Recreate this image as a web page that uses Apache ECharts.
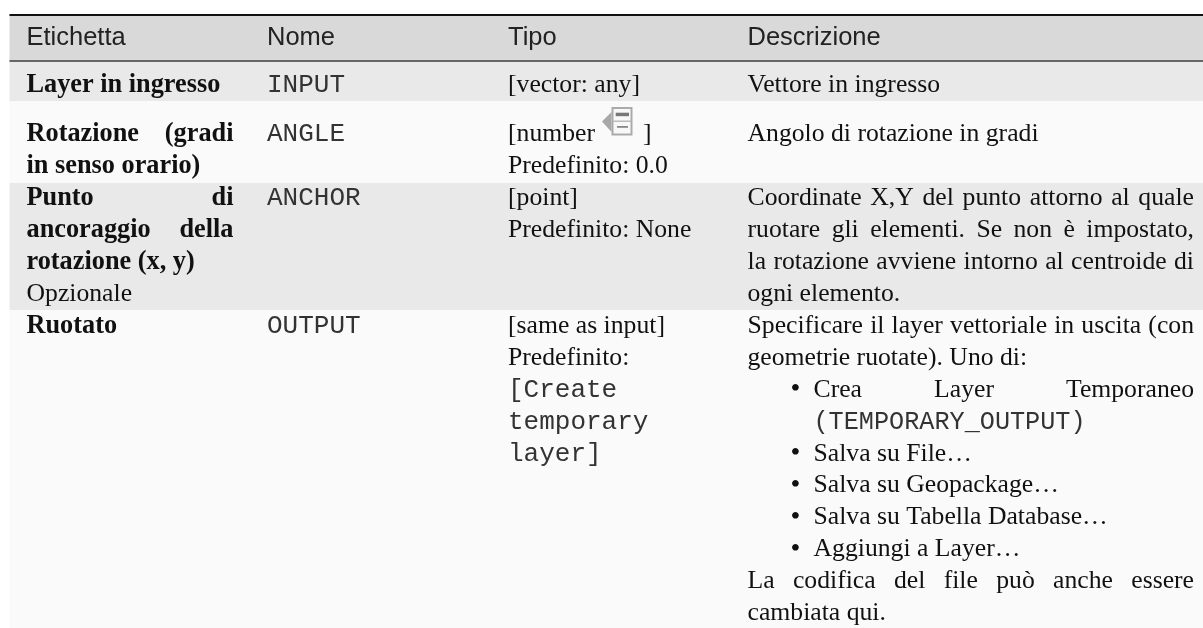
<!DOCTYPE html>
<html><head><meta charset="utf-8">
<style>html,body{margin:0;padding:0;background:#fff}#c{width:1203px;height:628px}</style>
<script src="https://cdn.jsdelivr.net/npm/echarts@6/dist/echarts.min.js"></script>
</head><body><div id="c"></div>
<script>
const headers = ['Etichetta', 'Nome', 'Tipo', 'Descrizione'];
// Style codes: b bold, r regular, m monospace; trailing j = justified line
const labelCol = [
  [['b', 'Layer in ingresso']],
  [['bj', 'Rotazione (gradi'], ['b', 'in senso orario)']],
  [['bj', 'Punto di'], ['bj', 'ancoraggio della'], ['b', 'rotazione (x, y)'], ['r', 'Opzionale']],
  [['b', 'Ruotato']]
];
const nameCol = ['INPUT', 'ANGLE', 'ANCHOR', 'OUTPUT'];
const typeCol = [
  [['r', '[vector: any]']],
  [['r', '[number'], ['r', 'Predefinito: 0.0']],
  [['r', '[point]'], ['r', 'Predefinito: None']],
  [['r', '[same as input]'], ['r', 'Predefinito:'], ['m', '[Create'], ['m', 'temporary'], ['m', 'layer]']]
];
const descCol = [
  [['r', 'Vettore in ingresso']],
  [['r', 'Angolo di rotazione in gradi']],
  [['rj', 'Coordinate X,Y del punto attorno al quale'], ['rj', 'ruotare gli elementi. Se non è impostato,'],
   ['rj', 'la rotazione avviene intorno al centroide di'], ['r', 'ogni elemento.']],
  [['rj', 'Specificare il layer vettoriale in uscita (con'], ['r', 'geometrie ruotate). Uno di:'],
   ['lj', 'Crea Layer Temporaneo'], ['lm', '(TEMPORARY_OUTPUT)'], ['l', 'Salva su File…'], ['l', 'Salva su Geopackage…'],
   ['l', 'Salva su Tabella Database…'], ['l', 'Aggiungi a Layer…'],
   ['rj', 'La codifica del file può anche essere'], ['r', 'cambiata qui.']]
];

const SERIF = '"Liberation Serif"', MONO = '"Liberation Mono"', SANS = '"Liberation Sans"';
const SIZE = 25.7, BSIZE = 26.3, MSIZE = 26, LMSIZE = 25.2, HSIZE = 25.5;
const colX = [26.5, 267, 508, 747.5];
const colR = [233.5, 0, 0, 1194];
const listX = 813.5, bulletX = 790.5;
const rowEdges = [61, 101, 183, 310, 628];
const firstCenter = [85, 134, 198, 326];
const LH = 31.95;
const LEFT = 9.5, WIDTH = 1203 - LEFT;
const ctx = document.createElement('canvas').getContext('2d');
const fontOf = s => s.startsWith('b') ? {fontFamily: SERIF, fontSize: BSIZE, fontWeight: 'bold'}
  : s === 'lm' ? {fontFamily: MONO, fontSize: LMSIZE, fontWeight: 'normal'}
  : s.includes('m') ? {fontFamily: MONO, fontSize: MSIZE, fontWeight: 'normal'}
  : {fontFamily: SERIF, fontSize: SIZE, fontWeight: 'normal'};
const width = (t, f) => { ctx.font = `${f.fontWeight} ${f.fontSize}px ${f.fontFamily}`; return ctx.measureText(t).width; };
const els = [];
const text = (x, y, t, f, fill) => els.push({type: 'text', x, y, silent: true,
  style: Object.assign({text: t, fill: fill || (f.fontFamily === MONO ? '#333' : '#111'), align: 'left', verticalAlign: 'middle'}, f)});
const rect = (x, y, w, h, fill) => els.push({type: 'rect', silent: true, shape: {x, y, width: w, height: h}, style: {fill}});

rect(LEFT, 14, WIDTH, 47, '#d9d9d9');
rect(LEFT, 14, WIDTH, 2, '#111');
for (let i = 0; i < 4; i++) rect(LEFT, rowEdges[i], WIDTH, rowEdges[i + 1] - rowEdges[i], i % 2 ? '#fafafa' : '#e9e9e9');
rect(LEFT, 60, WIDTH, 2, '#666');
headers.forEach((h, i) => text(colX[i], 37.5, h, {fontFamily: SANS, fontSize: HSIZE}, '#222'));

function line(col, y, style, t) {
  const f = fontOf(style);
  let x = colX[col], r = colR[col];
  if (style.startsWith('l')) {
    x = listX;
    if (t[0] !== '(') text(bulletX, y, '•', {fontFamily: SERIF, fontSize: 28});
  }
  if (style.endsWith('j')) {
    const w = t.split(' ');
    const tot = w.reduce((a, s) => a + width(s, f), 0);
    const gap = (r - x - tot) / (w.length - 1);
    w.forEach(s => { text(x, y, s, f); x += width(s, f) + gap; });
  } else text(x, y, t, f);
}
[labelCol, null, typeCol, descCol].forEach((col, c) => {
  if (!col) return;
  col.forEach((cell, i) => cell.forEach((l, j) => line(c, firstCenter[i] + j * LH, l[0], l[1])));
});
nameCol.forEach((n, i) => text(colX[1], firstCenter[i], n, fontOf('m')));

// parameter icon
els.push({type: 'polygon', silent: true, shape: {points: [[611.5, 112], [602, 121.5], [611.5, 132]]}, style: {fill: '#a8a8a8'}});
els.push({type: 'rect', silent: true, shape: {x: 612.5, y: 108, width: 19, height: 26.5}, style: {fill: '#f8f8f8', stroke: '#aaa', lineWidth: 2}});
rect(613, 120.5, 18, 1.5, '#bbb');
rect(615.7, 112.7, 13.3, 3.5, '#777');
rect(617, 126, 11, 1.8, '#888');
text(643, 134.5, ']', fontOf('r'));

const chart = echarts.init(document.getElementById('c'), null, {renderer: 'canvas'});
chart.setOption({animation: false, backgroundColor: '#fff', graphic: {elements: els}});
</script></body></html>
